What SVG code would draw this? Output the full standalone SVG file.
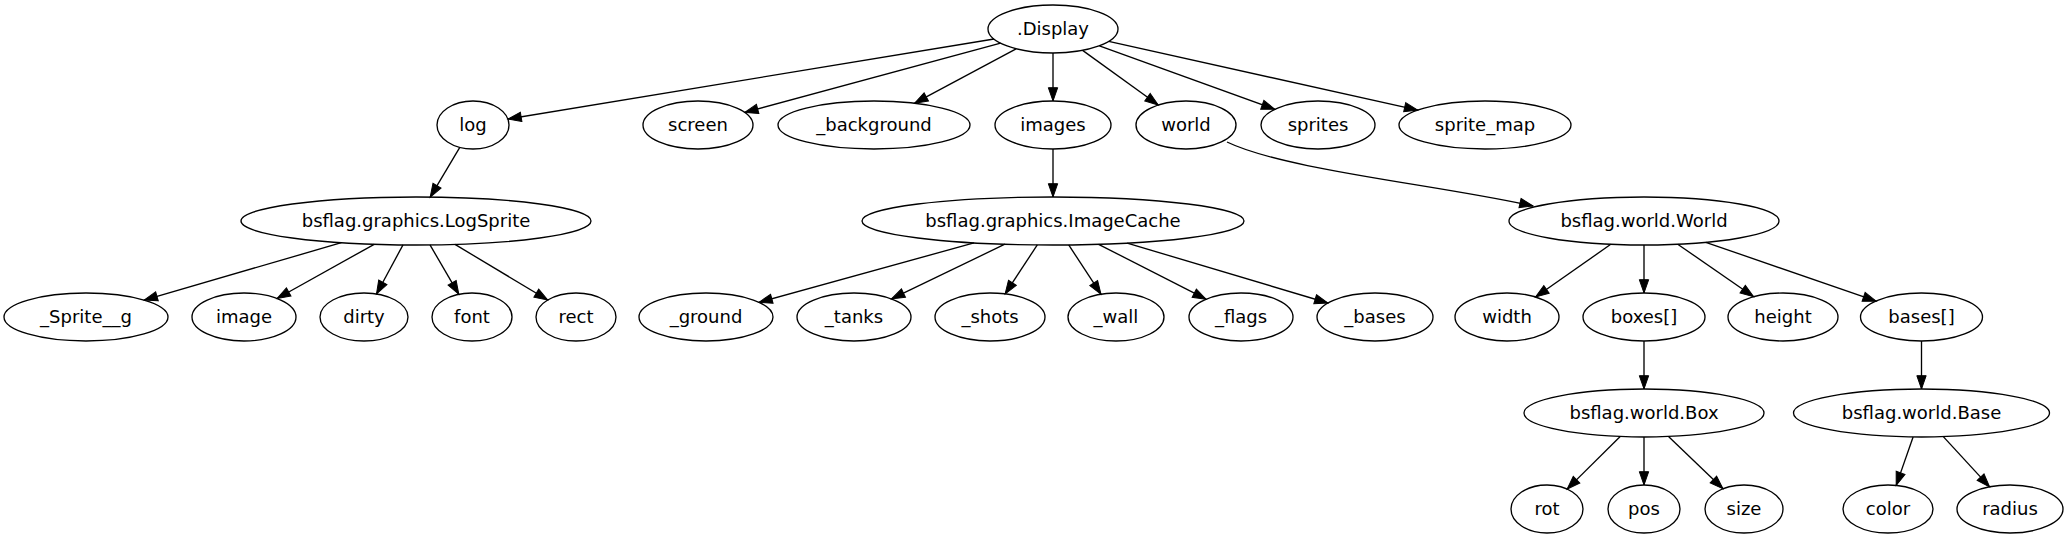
<svg xmlns="http://www.w3.org/2000/svg" width="2069" height="539" viewBox="0 0 2069 539">
<style>
.n ellipse{fill:none;stroke:#000;stroke-width:1.33}
.n text{font-family:"DejaVu Sans",sans-serif;font-size:18px;text-anchor:middle;fill:#000}
#edges line,#edges path{stroke:#000;stroke-width:1.33;fill:none;marker-end:url(#ah)}
</style>
<defs>
<marker id="ah" markerUnits="userSpaceOnUse" markerWidth="14" markerHeight="10" refX="13.3" refY="4.67" orient="auto" overflow="visible">
<path d="M0,0 L13.3,4.67 L0,9.33 z" fill="#000" stroke="#000" stroke-width="1"/>
</marker>
</defs>
<rect width="2069" height="539" fill="#fff"/>
<g id="edges">
<line x1="994" y1="39" x2="508" y2="119"/>
<line x1="1000.6" y1="43.2" x2="744.8" y2="112.4"/>
<line x1="1016.1" y1="48.8" x2="914.6" y2="103.2"/>
<line x1="1053" y1="53" x2="1053" y2="101"/>
<line x1="1082.6" y1="50.4" x2="1158.3" y2="105"/>
<line x1="1099.4" y1="45.8" x2="1274.8" y2="109.3"/>
<line x1="1108.7" y1="41.4" x2="1417.7" y2="110.1"/>
<line x1="459.8" y1="147.3" x2="430.2" y2="197.1"/>
<line x1="341.4" y1="242.7" x2="144.2" y2="300.1"/>
<line x1="374.2" y1="244.3" x2="277.1" y2="298.5"/>
<line x1="403" y1="244.9" x2="376.5" y2="294"/>
<line x1="430" y1="244.9" x2="458.8" y2="294.3"/>
<line x1="455" y1="244.4" x2="547.7" y2="300"/>
<line x1="1053" y1="149" x2="1053" y2="197"/>
<line x1="974" y1="242.9" x2="759" y2="302.3"/>
<line x1="1004.9" y1="244.2" x2="891.5" y2="298.9"/>
<line x1="1037.3" y1="244.9" x2="1005.1" y2="293.9"/>
<line x1="1068.7" y1="244.9" x2="1101" y2="294.2"/>
<line x1="1098.6" y1="244.3" x2="1206.1" y2="299.2"/>
<line x1="1127.2" y1="243.1" x2="1327.9" y2="303"/>
<path d="M1227,142 C1285,170 1440,185 1533,206"/>
<line x1="1610.8" y1="244.3" x2="1535.6" y2="297"/>
<line x1="1644" y1="245" x2="1644" y2="293"/>
<line x1="1677.7" y1="244.2" x2="1753.6" y2="296.7"/>
<line x1="1705.8" y1="242.3" x2="1876.2" y2="301.2"/>
<line x1="1644" y1="341" x2="1644" y2="389"/>
<line x1="1921.5" y1="341" x2="1921.5" y2="389"/>
<line x1="1620.2" y1="436.5" x2="1567.1" y2="489.1"/>
<line x1="1644" y1="437" x2="1644" y2="485"/>
<line x1="1668.5" y1="436.5" x2="1723" y2="488.8"/>
<line x1="1913.1" y1="437" x2="1896.2" y2="485.4"/>
<line x1="1943.3" y1="436.6" x2="1989.6" y2="486.9"/>
</g>
<g id="n_display" class="n"><ellipse cx="1053" cy="29" rx="65" ry="24"/><text x="1053" y="34.5">.Display</text></g>
<g id="n_log" class="n"><ellipse cx="473" cy="125" rx="36" ry="24"/><text x="473" y="130.5">log</text></g>
<g id="n_screen" class="n"><ellipse cx="698" cy="125" rx="55" ry="24"/><text x="698" y="130.5">screen</text></g>
<g id="n_background" class="n"><ellipse cx="874" cy="125" rx="96" ry="24"/><text x="874" y="130.5">_background</text></g>
<g id="n_images" class="n"><ellipse cx="1053" cy="125" rx="58" ry="24"/><text x="1053" y="130.5">images</text></g>
<g id="n_world" class="n"><ellipse cx="1186" cy="125" rx="50" ry="24"/><text x="1186" y="130.5">world</text></g>
<g id="n_sprites" class="n"><ellipse cx="1318" cy="125" rx="57" ry="24"/><text x="1318" y="130.5">sprites</text></g>
<g id="n_sprite_map" class="n"><ellipse cx="1485" cy="125" rx="86" ry="24"/><text x="1485" y="130.5">sprite_map</text></g>
<g id="n_logsprite" class="n"><ellipse cx="416" cy="221" rx="175" ry="24"/><text x="416" y="226.5">bsflag.graphics.LogSprite</text></g>
<g id="n_imagecache" class="n"><ellipse cx="1053" cy="221" rx="191" ry="24"/><text x="1053" y="226.5">bsflag.graphics.ImageCache</text></g>
<g id="n_worldW" class="n"><ellipse cx="1644" cy="221" rx="135" ry="24"/><text x="1644" y="226.5">bsflag.world.World</text></g>
<g id="n_sprite_g" class="n"><ellipse cx="86" cy="317" rx="82" ry="24"/><text x="86" y="322.5">_Sprite__g</text></g>
<g id="n_image" class="n"><ellipse cx="244" cy="317" rx="52" ry="24"/><text x="244" y="322.5">image</text></g>
<g id="n_dirty" class="n"><ellipse cx="364" cy="317" rx="44" ry="24"/><text x="364" y="322.5">dirty</text></g>
<g id="n_font" class="n"><ellipse cx="472" cy="317" rx="40" ry="24"/><text x="472" y="322.5">font</text></g>
<g id="n_rect" class="n"><ellipse cx="576" cy="317" rx="40" ry="24"/><text x="576" y="322.5">rect</text></g>
<g id="n_ground" class="n"><ellipse cx="706" cy="317" rx="67" ry="24"/><text x="706" y="322.5">_ground</text></g>
<g id="n_tanks" class="n"><ellipse cx="854" cy="317" rx="57" ry="24"/><text x="854" y="322.5">_tanks</text></g>
<g id="n_shots" class="n"><ellipse cx="990" cy="317" rx="55" ry="24"/><text x="990" y="322.5">_shots</text></g>
<g id="n_wall" class="n"><ellipse cx="1116" cy="317" rx="48" ry="24"/><text x="1116" y="322.5">_wall</text></g>
<g id="n_flags" class="n"><ellipse cx="1241" cy="317" rx="52" ry="24"/><text x="1241" y="322.5">_flags</text></g>
<g id="n_bases" class="n"><ellipse cx="1375" cy="317" rx="58" ry="24"/><text x="1375" y="322.5">_bases</text></g>
<g id="n_width" class="n"><ellipse cx="1507" cy="317" rx="52" ry="24"/><text x="1507" y="322.5">width</text></g>
<g id="n_boxes" class="n"><ellipse cx="1644" cy="317" rx="61" ry="24"/><text x="1644" y="322.5">boxes[]</text></g>
<g id="n_height" class="n"><ellipse cx="1783" cy="317" rx="55" ry="24"/><text x="1783" y="322.5">height</text></g>
<g id="n_basesA" class="n"><ellipse cx="1921.5" cy="317" rx="61" ry="24"/><text x="1921.5" y="322.5">bases[]</text></g>
<g id="n_box" class="n"><ellipse cx="1644" cy="413" rx="120" ry="24"/><text x="1644" y="418.5">bsflag.world.Box</text></g>
<g id="n_base" class="n"><ellipse cx="1921.5" cy="413" rx="128" ry="24"/><text x="1921.5" y="418.5">bsflag.world.Base</text></g>
<g id="n_rot" class="n"><ellipse cx="1547" cy="509" rx="36" ry="24"/><text x="1547" y="514.5">rot</text></g>
<g id="n_pos" class="n"><ellipse cx="1644" cy="509" rx="36" ry="24"/><text x="1644" y="514.5">pos</text></g>
<g id="n_size" class="n"><ellipse cx="1744" cy="509" rx="39" ry="24"/><text x="1744" y="514.5">size</text></g>
<g id="n_color" class="n"><ellipse cx="1888" cy="509" rx="45" ry="24"/><text x="1888" y="514.5">color</text></g>
<g id="n_radius" class="n"><ellipse cx="2010" cy="509" rx="53" ry="24"/><text x="2010" y="514.5">radius</text></g>
</svg>
